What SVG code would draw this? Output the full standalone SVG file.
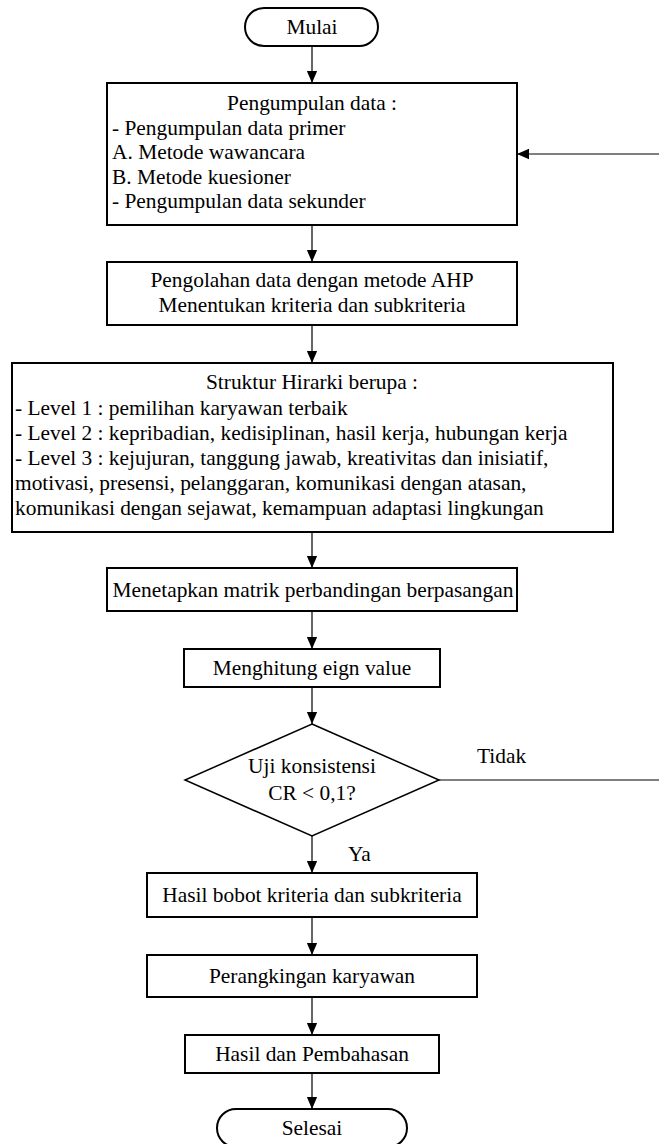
<svg xmlns="http://www.w3.org/2000/svg" width="659" height="1144" viewBox="0 0 659 1144">
<style>
.box{fill:#fff;stroke:#000;stroke-width:2}
.dia{fill:#fff;stroke:#000;stroke-width:1.5}
.t{font-family:"Liberation Serif","Times New Roman",serif;font-size:21.4px;fill:#000}
.c{text-anchor:middle}
.edge{fill:none;stroke:#000;stroke-width:1.2}
</style>
<defs>
<marker id="arr" markerUnits="userSpaceOnUse" markerWidth="12" markerHeight="14" refX="14" refY="6" orient="auto" viewBox="0 0 14 12">
<path d="M0,0 L14,6 L0,12 Z" fill="#000"/>
</marker>
</defs>
<g id="connectors">
<line class="edge" x1="312" y1="46" x2="312" y2="83" marker-end="url(#arr)"/>
<line class="edge" x1="312" y1="225" x2="312" y2="262" marker-end="url(#arr)"/>
<line class="edge" x1="312" y1="325" x2="312" y2="363" marker-end="url(#arr)"/>
<line class="edge" x1="312" y1="532" x2="312" y2="568" marker-end="url(#arr)"/>
<line class="edge" x1="312" y1="611" x2="312" y2="649" marker-end="url(#arr)"/>
<line class="edge" x1="312" y1="687" x2="312" y2="724" marker-end="url(#arr)"/>
<line class="edge" x1="312" y1="836" x2="312" y2="873" marker-end="url(#arr)"/>
<line class="edge" x1="312" y1="917" x2="312" y2="955" marker-end="url(#arr)"/>
<line class="edge" x1="312" y1="997" x2="312" y2="1035" marker-end="url(#arr)"/>
<line class="edge" x1="312" y1="1073" x2="312" y2="1109" marker-end="url(#arr)"/>
<path class="edge" d="M439,780 H672 V154 H517" marker-end="url(#arr)"/>
<text class="t" x="477" y="763">Tidak</text>
<text class="t" x="348" y="861">Ya</text>
</g>
<g id="mulai">
<rect class="box" x="245" y="8" width="133" height="38" rx="19" ry="19"/>
<text class="t c" x="312" y="34">Mulai</text>
</g>
<g id="pengumpulan">
<rect class="box" x="107" y="83" width="410" height="142"/>
<text class="t c" x="312" y="110">Pengumpulan data :</text>
<text class="t" x="112" y="135">- Pengumpulan data primer</text>
<text class="t" x="112" y="159">A. Metode wawancara</text>
<text class="t" x="112" y="184">B. Metode kuesioner</text>
<text class="t" x="112" y="208">- Pengumpulan data sekunder</text>
</g>
<g id="pengolahan">
<rect class="box" x="107" y="262" width="410" height="63"/>
<text class="t c" x="312" y="287">Pengolahan data dengan metode AHP</text>
<text class="t c" x="312" y="312">Menentukan kriteria dan subkriteria</text>
</g>
<g id="struktur">
<rect class="box" x="12" y="363" width="601" height="169"/>
<text class="t c" x="312" y="389">Struktur Hirarki berupa :</text>
<text class="t" x="15" y="415">- Level 1 : pemilihan karyawan terbaik</text>
<text class="t" x="15" y="440">- Level 2 : kepribadian, kedisiplinan, hasil kerja, hubungan kerja</text>
<text class="t" x="15" y="465">- Level 3 : kejujuran, tanggung jawab, kreativitas dan inisiatif,</text>
<text class="t" x="15" y="490">motivasi, presensi, pelanggaran, komunikasi dengan atasan,</text>
<text class="t" x="15" y="515">komunikasi dengan sejawat, kemampuan adaptasi lingkungan</text>
</g>
<g id="menetapkan">
<rect class="box" x="107" y="568" width="410" height="43"/>
<text class="t c" x="313" y="597">Menetapkan matrik perbandingan berpasangan</text>
</g>
<g id="menghitung">
<rect class="box" x="184" y="649" width="256" height="38"/>
<text class="t c" x="312" y="675">Menghitung eign value</text>
</g>
<g id="uji">
<polygon class="dia" points="312,724 439,780 312,836 185,780"/>
<text class="t c" x="312" y="773">Uji konsistensi</text>
<text class="t c" x="312" y="800">CR &lt; 0,1?</text>
</g>
<g id="hasilbobot">
<rect class="box" x="147" y="873" width="330" height="44"/>
<text class="t c" x="312" y="902">Hasil bobot kriteria dan subkriteria</text>
</g>
<g id="perangkingan">
<rect class="box" x="147" y="955" width="330" height="42"/>
<text class="t c" x="312" y="983">Perangkingan karyawan</text>
</g>
<g id="hasilpembahasan">
<rect class="box" x="185" y="1035" width="254" height="38"/>
<text class="t c" x="312" y="1061">Hasil dan Pembahasan</text>
</g>
<g id="selesai">
<rect class="box" x="217" y="1109" width="190" height="38" rx="19" ry="19"/>
<text class="t c" x="312" y="1135">Selesai</text>
</g>
</svg>
